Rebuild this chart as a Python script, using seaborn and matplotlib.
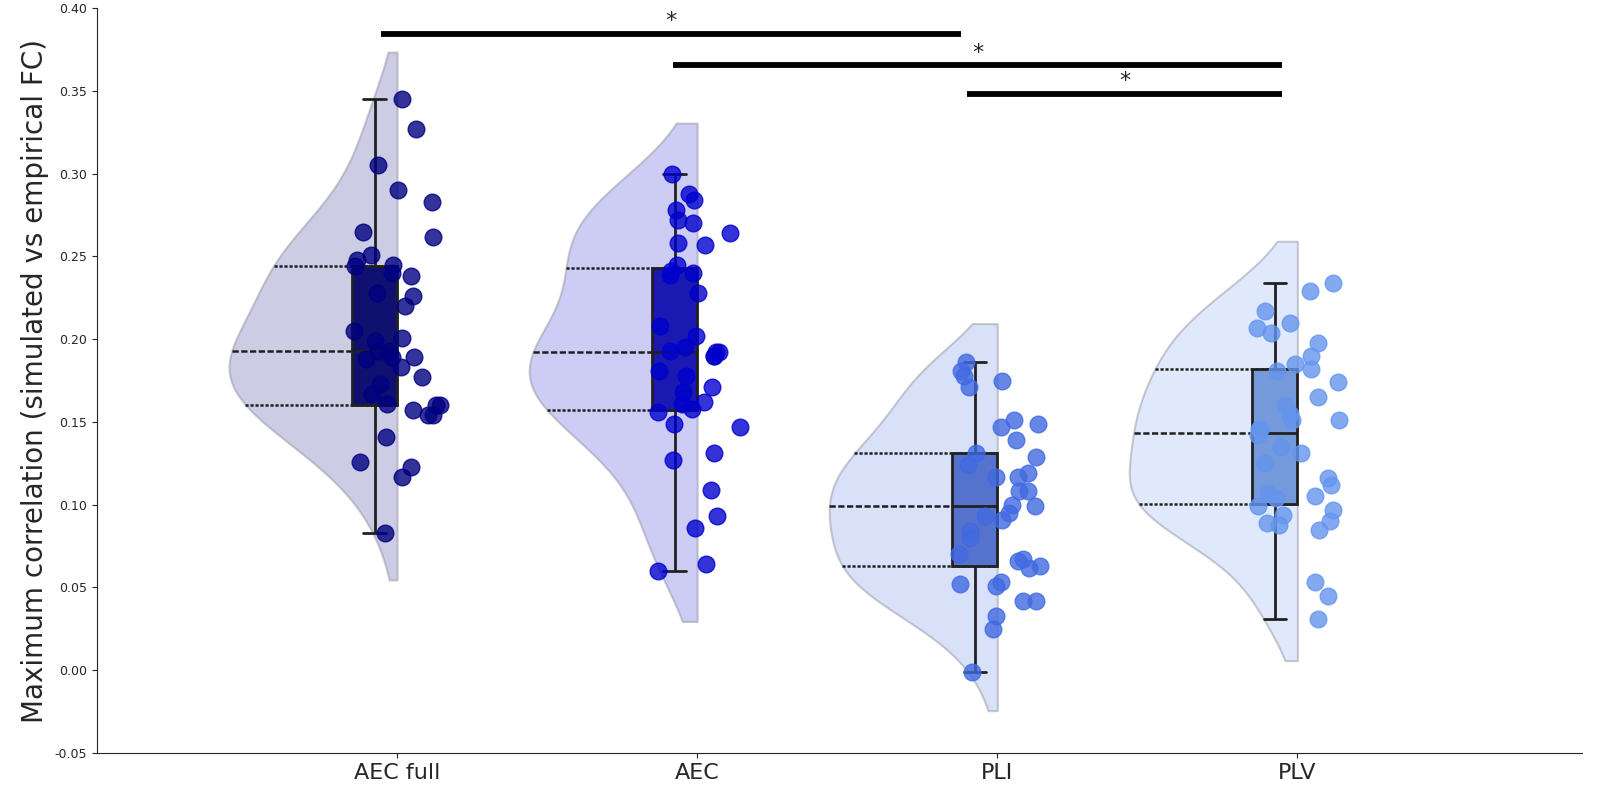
import numpy as np
import pandas as pd
import matplotlib
matplotlib.use("Agg")
import matplotlib.pyplot as plt
from matplotlib.colors import to_rgba
import seaborn as sns

categories = ["AEC full", "AEC", "PLI", "PLV"]

aec_full = [0.345, 0.327, 0.305, 0.290, 0.283, 0.262, 0.265, 0.251, 0.248, 0.240,
            0.244, 0.245, 0.238, 0.228, 0.226, 0.220, 0.205, 0.201, 0.199, 0.193,
            0.193, 0.189, 0.189, 0.188, 0.183, 0.177, 0.173, 0.167, 0.161, 0.160,
            0.160, 0.157, 0.154, 0.154, 0.141, 0.126, 0.123, 0.117, 0.083]
aec = [0.300, 0.288, 0.284, 0.278, 0.272, 0.270, 0.264, 0.257, 0.258, 0.245,
       0.240, 0.241, 0.239, 0.228, 0.208, 0.202, 0.195, 0.192, 0.192, 0.190,
       0.190, 0.178, 0.171, 0.168, 0.162, 0.161, 0.158, 0.156, 0.149, 0.147,
       0.127, 0.131, 0.109, 0.093, 0.086, 0.064, 0.060, 0.181, 0.193]
pli = [0.186, 0.181, 0.178, 0.175, 0.171, 0.149, 0.151, 0.147, 0.139, 0.131,
       0.129, 0.119, 0.117, 0.117, 0.108, 0.108, 0.100, 0.099, 0.095, 0.093,
       0.091, 0.084, 0.080, 0.066, 0.067, 0.063, 0.062, 0.053, 0.052, 0.051,
       0.042, 0.042, 0.033, 0.025, -0.001, 0.124, 0.070]
plv = [0.234, 0.229, 0.217, 0.210, 0.207, 0.204, 0.198, 0.190, 0.185, 0.181,
       0.182, 0.174, 0.151, 0.146, 0.142, 0.145, 0.151, 0.131, 0.116, 0.107,
       0.104, 0.105, 0.097, 0.094, 0.099, 0.090, 0.088, 0.085, 0.089, 0.053,
       0.045, 0.031, 0.160, 0.165, 0.125, 0.135, 0.155, 0.112]

series = [aec_full, aec, pli, plv]
colors = ["navy", "mediumblue", "royalblue", "cornflowerblue"]
y_ticks = [-0.05, 0.00, 0.05, 0.10, 0.15, 0.20, 0.25, 0.30, 0.35, 0.40]
y_label = "Maximum correlation (simulated vs empirical FC)"

# significance bars
sig_x1 = [-0.055, 0.92, 1.90]
sig_x2 = [1.88, 2.95, 2.95]
sig_y = [0.3846, 0.3654, 0.3480]
sig_text = ["*", "*", "*"]

df = pd.DataFrame({
    "group": np.repeat(categories, [len(s) for s in series]),
    "value": np.concatenate(series),
})
df["slot"] = "box"

sns.set_style("ticks")
fig, ax = plt.subplots(figsize=(16.03, 7.85), dpi=100)
fig.subplots_adjust(left=0.0605, right=0.9872, top=0.9896, bottom=0.0408)

np.random.seed(3)
for i, cat in enumerate(categories):
    sub = df[df["group"] == cat]
    n_coll = len(ax.collections)
    n_line = len(ax.lines)
    # half violin; move it so that its flat side sits on the category position
    sns.violinplot(data=sub, x="group", y="value", order=categories, split=True,
                   inner="quart", density_norm="width", cut=1, width=0.56,
                   color=colors[i], linewidth=1.5, linecolor="0.15",
                   inner_kws=dict(linewidth=1.8, color="0.12"), ax=ax)
    new_colls = ax.collections[n_coll:]
    flat_x = max(p.vertices[:, 0].max() for c in new_colls for p in c.get_paths())
    shift = i - flat_x
    for coll in new_colls:
        for p in coll.get_paths():
            p.vertices[:, 0] = p.vertices[:, 0] + shift
        coll.set_facecolor(to_rgba(colors[i], 0.2))
        coll.set_edgecolor((0.55, 0.55, 0.6, 0.45))
    for ln in ax.lines[n_line:]:
        ln.set_xdata(np.asarray(ln.get_xdata(), dtype=float) + shift)
    sns.boxplot(data=sub, x="group", y="value", order=categories, hue="slot",
                hue_order=["box", "pad"], palette={"box": colors[i], "pad": colors[i]},
                dodge=True, width=0.3, gap=0, whis=(0, 100), linewidth=2,
                linecolor="0.13", legend=False, ax=ax)
    sns.stripplot(data=sub, x="group", y="value", order=categories,
                  color=colors[i], size=12, alpha=0.8, jitter=0.15,
                  linewidth=1, edgecolor=colors[i], ax=ax, zorder=4)

for x1, x2, y, t in zip(sig_x1, sig_x2, sig_y, sig_text):
    ax.plot([x1, x2], [y, y], color="black", lw=4.2, solid_capstyle="butt")
    ax.text((x1 + x2) / 2, y + 0.0078, t, ha="center", va="center", fontsize=16)

ax.set_xlim(-1.0, 3.95)
ax.set_ylim(-0.05, 0.40)
ax.set_yticks(y_ticks)
ax.set_yticklabels([f"{v:.2f}" for v in y_ticks], fontsize=9)
ax.tick_params(axis="x", labelsize=16)
ax.set_xlabel("")
ax.set_ylabel(y_label, fontsize=20)
sns.despine(ax=ax)

fig.savefig("out.png", dpi=100)
